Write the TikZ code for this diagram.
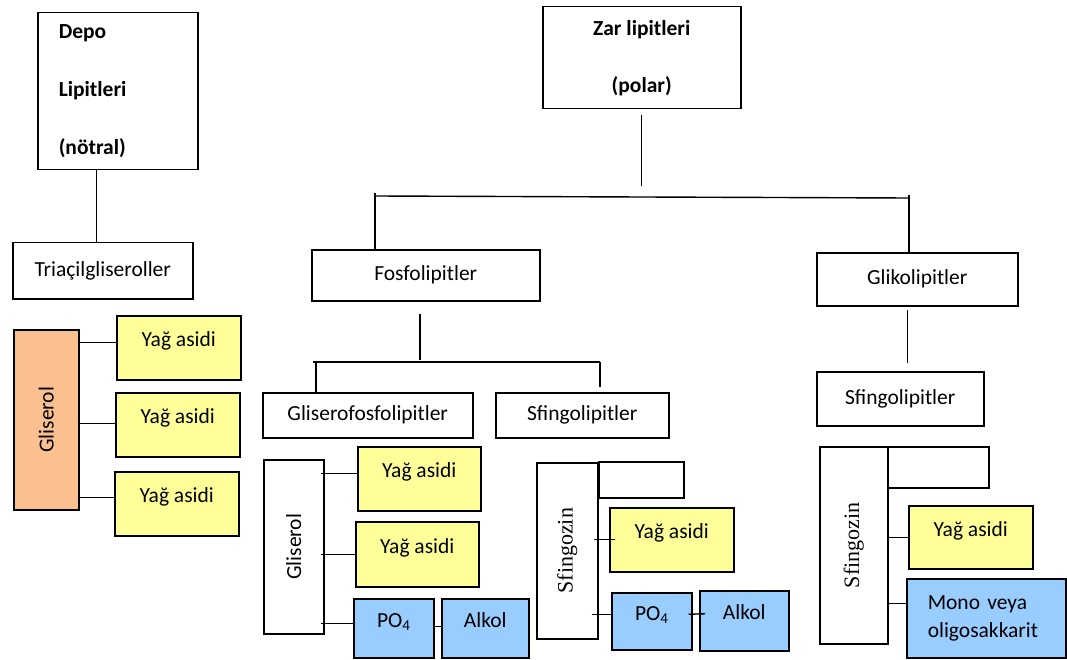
\documentclass[tikz,border=0pt]{standalone}
\usepackage{fontspec}
\usepackage{graphicx}
\setmainfont{Carlito}
\newfontfamily\timesfont{Liberation Serif}
\definecolor{yagsari}{HTML}{FFFF99}
\definecolor{gliturun}{HTML}{FAC090}
\definecolor{fosmavi}{HTML}{99CCFF}
\tikzset{
	kutu/.style={draw, line width=1.5pt, inner sep=0pt, anchor=north west, font=\fontsize{21.5}{25}\selectfont},
	yagkutu/.style={kutu, fill=yagsari, text height=15pt, text depth=17pt},
	foskutu/.style={kutu, fill=fosmavi, text height=15pt, text depth=17pt},
	bag/.style={line width=1.4pt}
}
\begin{document}
\begin{tikzpicture}[x=1pt, y=-1pt]
			\useasboundingbox (0,0) rectangle (1067,660);
			% depo lipitleri
			\node[kutu, minimum width=160, minimum height=157, text width=118, align=left, font=\fontsize{21.5}{25}\selectfont\bfseries] (depo) at (37,12) {Depo\\[33pt]Lipitleri\\[33pt](nötral)};
			\node[kutu, minimum width=180, minimum height=56] (tri) at (12,242) {Triaçilgliseroller};
			\draw[bag] ([xshift=-6pt]tri.north) -- ([xshift=-6pt]tri.north |- depo.south);
			
			\node[kutu, fill=gliturun, minimum width=65, minimum height=180] (gls1) at (13,329) {\rotatebox{90}{Gliserol}};
			\foreach \i/\x/\y/\s in {1/116/315/5, 2/115/392/1, 3/114/471/6} {
				\node[yagkutu, minimum width=124, minimum height=64] (ya\i) at (\x,\y) {Yağ asidi};
				\draw[bag] ([xshift=-2pt,yshift=\s pt]ya\i.west -| gls1.east) -- ([yshift=\s pt]ya\i.west);
			}
			
			% zar lipitleri
			\node[kutu, minimum width=198, minimum height=102, align=center, font=\fontsize{21.5}{25}\selectfont\bfseries] (zar) at (542,6) {Zar lipitleri\\[32pt](polar)};
			\node[kutu, minimum width=228, minimum height=51] (fos) at (311,249) {Fosfolipitler};
			\node[kutu, minimum width=201, minimum height=53] (gliko) at (816,252) {Glikolipitler};
			\coordinate (busL) at (375,196);
			\coordinate (busR) at (909,198);
			\draw[bag] ([yshift=-6pt]zar.south) -- ([yshift=10pt]zar.south |- busL);
			\draw[bag] (busL) -- (busR);
			\draw[bag] ([yshift=3pt]busL) -- (busL |- fos.north);
			\draw[bag] ([yshift=3pt]busR) -- (busR |- gliko.north);
			
			% fosfolipitler
			\node[kutu, minimum width=210, minimum height=45] (glfos) at (262,392) {Gliserofosfolipitler};
			\node[kutu, minimum width=173, minimum height=45] (sfl1) at (495,392) {Sfingolipitler};
			\coordinate (fbusL) at (316,362);
			\coordinate (fbusM) at (420,362);
			\coordinate (fbusR) at (600,362);
			\draw[bag] ([yshift=-12pt]fos.south -| fbusM) -- ([yshift=2pt]fbusM);
			\draw[bag] ([xshift=-3pt]fbusL) -- (fbusR);
			\draw[bag] (fbusL) -- (fbusL |- glfos.north);
			\draw[bag] (fbusR) -- ([yshift=5pt]fbusR |- sfl1.north);
			
			\node[kutu, minimum width=60, minimum height=174] (gls2) at (263,459) {\rotatebox{90}{Gliserol}};
			\node[yagkutu, minimum width=123, minimum height=64] (ya4) at (357,446) {Yağ asidi};
			\node[yagkutu, minimum width=123, minimum height=65] (ya5) at (355,521) {Yağ asidi};
			\node[foskutu, minimum width=80, minimum height=59] (po1) at (353,598) {PO\textsubscript{4}};
			\node[foskutu, minimum width=87, minimum height=59] (alk1) at (441,598) {Alkol};
			\draw[bag] ([xshift=-4pt,yshift=5pt]ya4.west -| gls2.east) -- ([yshift=5pt]ya4.west);
			\draw[bag] ([xshift=-4pt]ya5.west -| gls2.east) -- (ya5.west);
			\draw[bag] ([xshift=-4pt,yshift=5pt]po1.west -| gls2.east) -- ([yshift=5pt]po1.west);
			\draw[bag] ([yshift=2pt]po1.east) -- ([yshift=2pt]alk1.west);
			
			\node[kutu, minimum width=61, minimum height=176, font=\fontsize{22}{25}\timesfont] (sfz1) at (536,462) {\rotatebox{90}{Sfingozin}};
			\node[kutu, minimum width=85, minimum height=36] (bos1) at (598,461) {};
			\node[yagkutu, minimum width=124, minimum height=64] (ya6) at (609,507) {Yağ asidi};
			\node[foskutu, minimum width=80, minimum height=57] (po2) at (611,592) {PO\textsubscript{4}};
			\node[foskutu, minimum width=89, minimum height=60] (alk2) at (699,590) {Alkol};
			\draw[bag] ([xshift=-5pt]ya6.west -| sfz1.east) -- ([xshift=6pt]ya6.west);
			\draw[bag] ([xshift=-7pt,yshift=7pt]po2.west -| sfz1.east) -- ([xshift=2pt,yshift=7pt]po2.west);
			\draw[bag] ([xshift=-4pt,yshift=7pt]po2.east) -- ([xshift=6pt,yshift=7pt]alk2.west);
			
			% glikolipitler
			\node[kutu, minimum width=167, minimum height=54] (sfl2) at (816,371) {Sfingolipitler};
			\draw[bag] ([xshift=-10pt,yshift=-3pt]gliko.south) -- ([xshift=-10pt,yshift=8pt]sfl2.north -| gliko.south);
			
			\node[kutu, minimum width=68, minimum height=197, font=\fontsize{22}{25}\timesfont] (sfz2) at (819,446) {\rotatebox{90}{Sfingozin}};
			\node[kutu, minimum width=101, minimum height=41] (bos2) at (887,446) {};
			\node[yagkutu, minimum width=124, minimum height=63] (ya7) at (908,505) {Yağ asidi};
			\node[kutu, fill=fosmavi, minimum width=159, minimum height=79, text width=117, align=left, font=\fontsize{21.5}{28}\selectfont] (mono) at (906,578) {Mono veya\\oligosakkarit};
			\draw[bag] (ya7.west -| sfz2.east) -- (ya7.west);
			\draw[bag] ([yshift=15pt]mono.west -| sfz2.east) -- ([yshift=15pt]mono.west);
			
		\end{tikzpicture}
\end{document}
